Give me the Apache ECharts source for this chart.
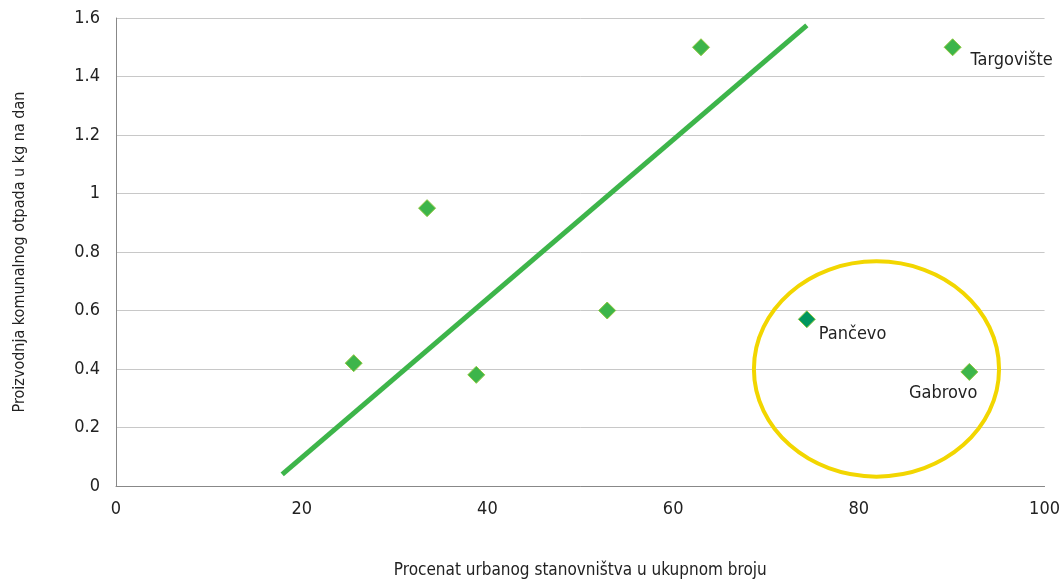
<!DOCTYPE html>
<html><head><meta charset="utf-8">
<script src="https://cdn.jsdelivr.net/npm/echarts@6/dist/echarts.min.js"></script>
<style>html,body{margin:0;padding:0;background:#fff;overflow:hidden}#c{width:1063px;height:584px}</style>
</head><body><div id="c"></div>
<script>
const xTicks = [0, 20, 40, 60, 80, 100];
const yTicks = [0, 0.2, 0.4, 0.6, 0.8, 1, 1.2, 1.4, 1.6];
const pointX = [25.6, 33.5, 38.8, 52.9, 63.0, 90.1, 91.9];
const pointY = [0.42, 0.95, 0.38, 0.60, 1.50, 1.50, 0.39];
const pointLabels = ['', '', '', '', '', 'Targovište', 'Gabrovo'];
const highlightX = [74.4];
const highlightY = [0.57];
const highlightLabels = ['Pančevo'];
const trendX = [17.9, 74.4];
const trendY = [0.04, 1.575];
const ellipse = [81.9, 0.40, 13.2, 0.368]; // cx, cy, rx, ry in data units
const xName = 'Procenat urbanog stanovništva u ukupnom broju';
const yName = 'Proizvodnja komunalnog otpada u kg na dan';

const FONT = '"Liberation Sans Narrow","DejaVu Sans Condensed",sans-serif';
const chart = echarts.init(document.getElementById('c'), null, {width: 1063, height: 584});
const labelPos = {'Targovište': [18, 4, 'left', 'top'], 'Gabrovo': [8, 12, 'right', 'top'], 'Pančevo': [12, 6, 'left', 'top']};
function pts(xs, ys, ls) {
  return xs.map((x, i) => {
    const l = ls[i];
    const d = {value: [x, ys[i]]};
    if (l) {
      const p = labelPos[l];
      d.label = {show: true, formatter: l, position: 'inside', offset: [p[0], p[1]], align: p[2], verticalAlign: p[3]};
    }
    return d;
  });
}
chart.setOption({
  animation: false,
  grid: {left: 116, width: 933, top: 18, height: 471, containLabel: false},
  xAxis: {
    type: 'value', min: 0, max: 100, interval: 20,
    name: xName, nameLocation: 'middle', nameGap: 76,
    nameTextStyle: {fontFamily: FONT, fontSize: 17, color: '#222'},
    axisLine: {show: true, lineStyle: {color: '#888', width: 1}},
    axisTick: {show: false},
    axisLabel: {fontFamily: FONT, fontSize: 18, color: '#222', margin: 14},
    splitLine: {show: false}
  },
  yAxis: {
    type: 'value', min: 0, max: 1.6, interval: 0.2,
    name: yName, nameLocation: 'middle', nameGap: 88,
    nameTextStyle: {fontFamily: FONT, fontSize: 16, color: '#222'},
    axisLine: {show: true, lineStyle: {color: '#888', width: 1}},
    axisTick: {show: false},
    axisLabel: {fontFamily: FONT, fontSize: 18, color: '#222', margin: 16,
      formatter: v => String(Math.round(v * 10) / 10)},
    splitLine: {show: true, lineStyle: {color: '#c8c8c8', width: 1}}
  },
  series: [
    {
      type: 'line', data: trendX.map((x, i) => [x, trendY[i]]), symbol: 'none',
      lineStyle: {color: '#3db54a', width: 5}, z: 2
    },
    {
      type: 'custom', z: 3,
      renderItem: (params, api) => {
        const c = api.coord([api.value(0), api.value(1)]);
        const e = api.coord([api.value(0) + api.value(2), api.value(1) + api.value(3)]);
        return {type: 'ellipse', shape: {cx: c[0], cy: c[1], rx: Math.abs(e[0] - c[0]), ry: Math.abs(c[1] - e[1])},
          style: {fill: 'none', stroke: '#f2d600', lineWidth: 4}};
      },
      data: [ellipse]
    },
    {
      type: 'scatter', symbol: 'diamond', symbolSize: 17, z: 4,
      itemStyle: {color: '#3db54a', borderColor: '#8dc63f', borderWidth: 1, opacity: 1},
      label: {fontFamily: FONT, fontSize: 18, color: '#222'},
      data: pts(pointX, pointY, pointLabels)
    },
    {
      type: 'scatter', symbol: 'diamond', symbolSize: 17, z: 4,
      itemStyle: {color: '#00965e', borderColor: '#8dc63f', borderWidth: 1, opacity: 1},
      label: {fontFamily: FONT, fontSize: 18, color: '#222'},
      data: pts(highlightX, highlightY, highlightLabels)
    }
  ]
});
</script></body></html>
